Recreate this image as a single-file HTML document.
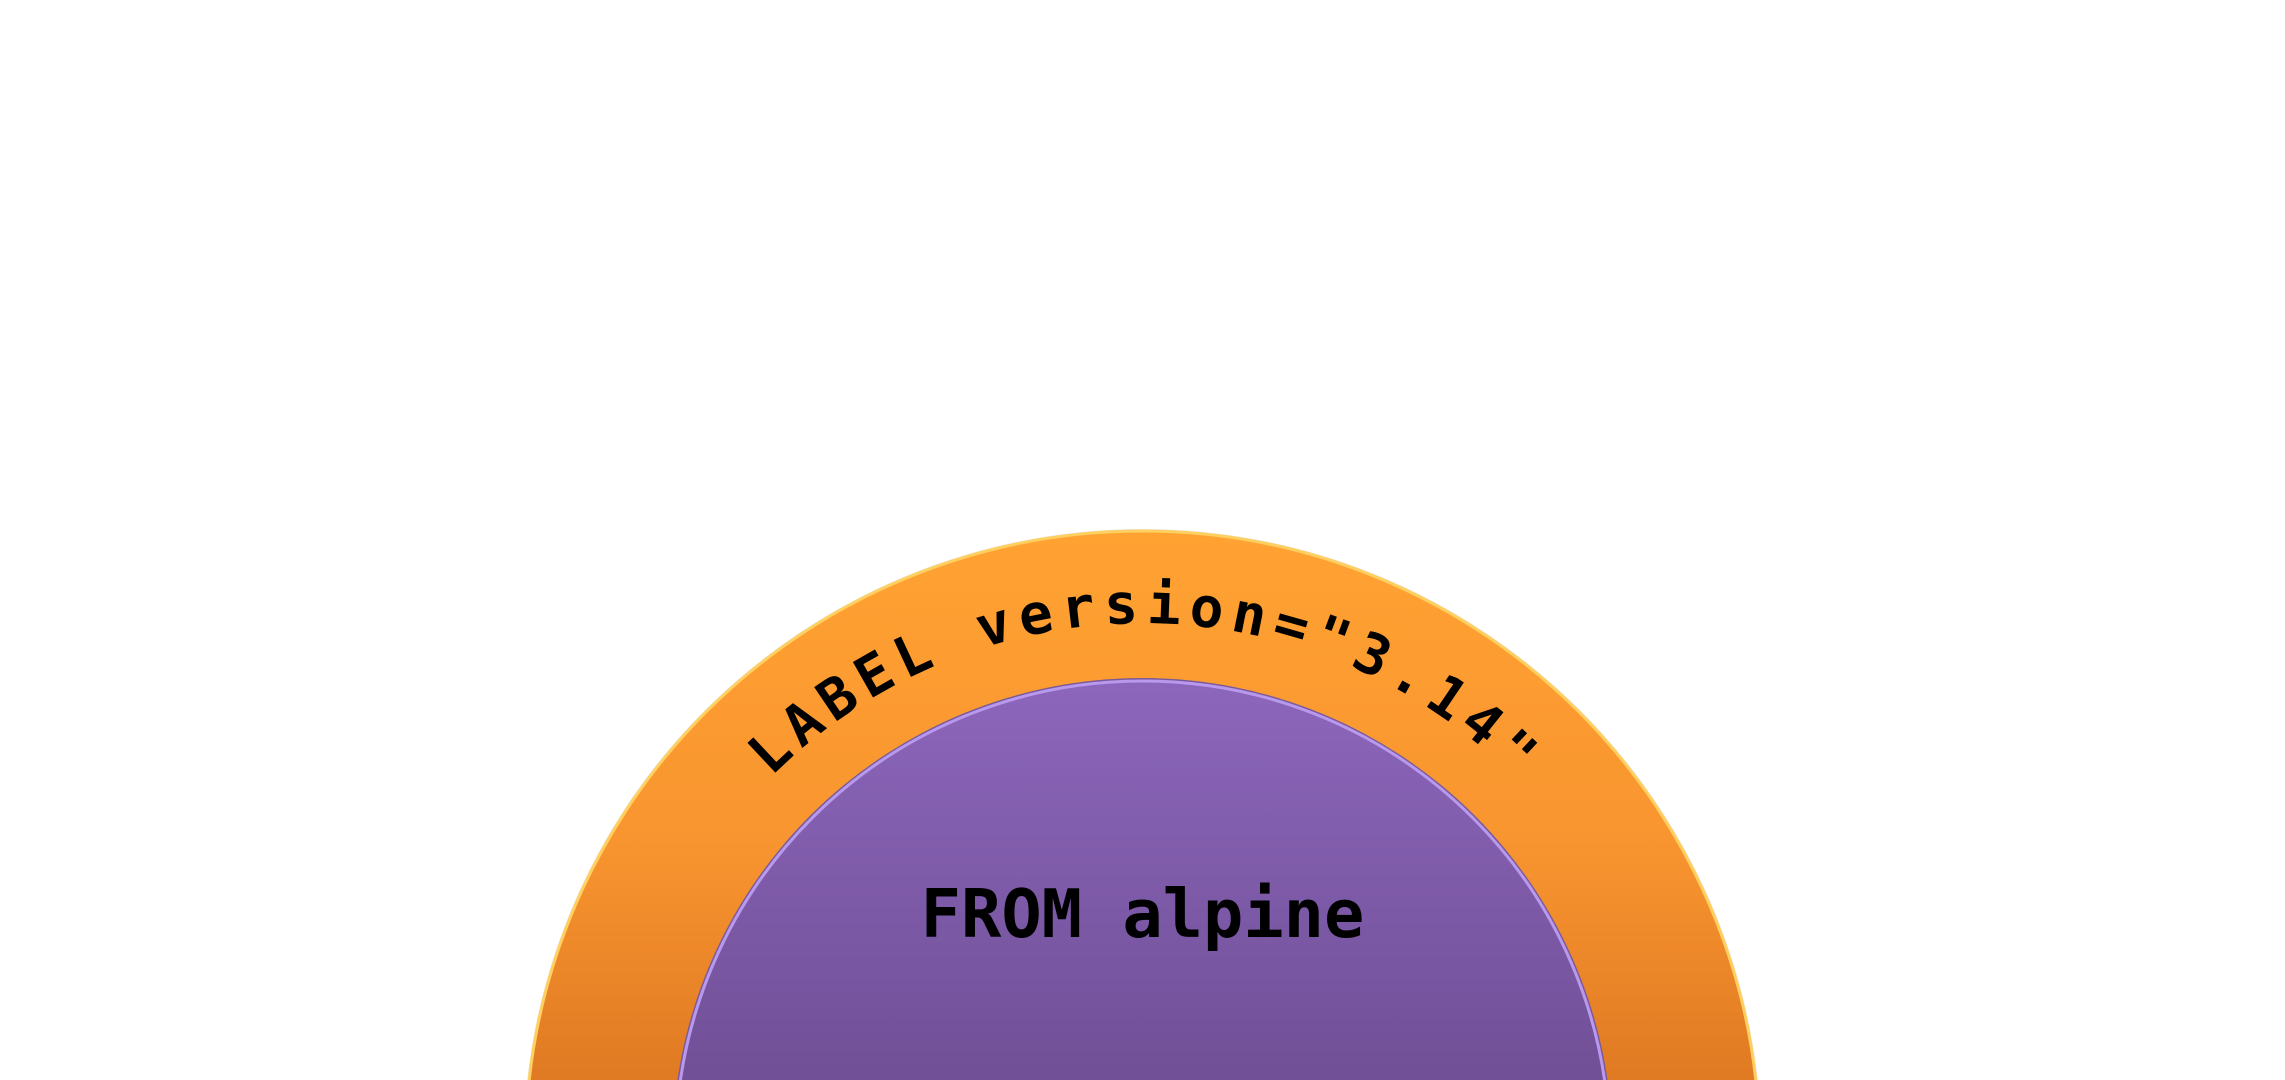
<!DOCTYPE html>
<html><head><meta charset="utf-8"><style>
html,body{margin:0;padding:0;background:#fff;width:2285px;height:1080px;overflow:hidden}
svg{display:block;overflow:hidden}
</style></head><body>
<svg width="2285" height="1080" viewBox="0 0 2285 1080" xmlns="http://www.w3.org/2000/svg">
<defs>
<linearGradient id="og" x1="0" y1="0" x2="0" y2="1">
<stop offset="0" stop-color="#ffa232"/>
<stop offset="0.25" stop-color="#f99530"/>
<stop offset="0.5" stop-color="#d9721f"/>
<stop offset="1" stop-color="#b8581a"/>
</linearGradient>
<linearGradient id="pg" x1="0" y1="0" x2="0" y2="1">
<stop offset="0" stop-color="#8c66bb"/>
<stop offset="0.5" stop-color="#6c4c91"/>
<stop offset="1" stop-color="#503870"/>
</linearGradient>
<path id="tp" d="M 617.5 1148 A 525 525 0 0 1 1667.5 1148"/>
</defs>
<circle cx="1142.5" cy="1148" r="619" fill="#e8e8e8"/>
<circle cx="1142.5" cy="1148" r="617" fill="url(#og)" stroke="#ffd060" stroke-width="3"/>
<circle cx="1142.5" cy="1148" r="470" fill="#7a5a9a"/>
<circle cx="1142.5" cy="1148" r="467" fill="url(#pg)" stroke="#b899ee" stroke-width="3"/>
<text font-family="'DejaVu Sans Mono','Liberation Mono',monospace" font-weight="bold" font-size="56" fill="#000">
<textPath href="#tp" startOffset="50%" text-anchor="middle" textLength="825" lengthAdjust="spacing">LABEL version="3.14"</textPath>
</text>
<text x="1142.5" y="937" text-anchor="middle" font-family="'DejaVu Sans Mono','Liberation Mono',monospace" font-weight="bold" font-size="67" fill="#000">FROM alpine</text>
</svg>
</body></html>
